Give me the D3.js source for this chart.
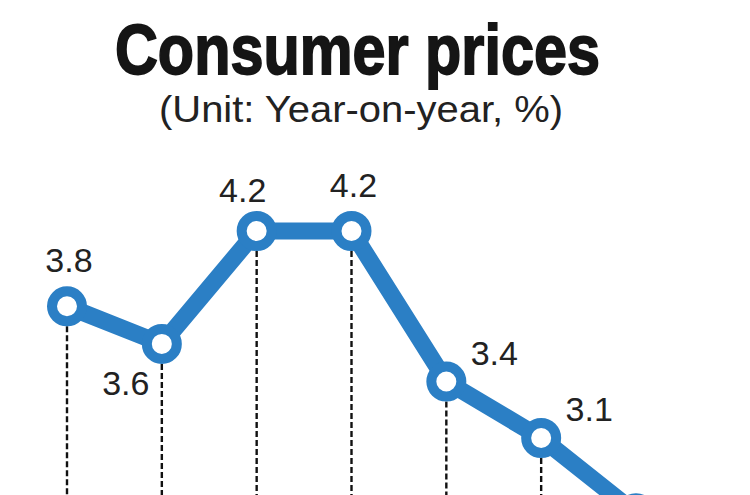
<!DOCTYPE html>
<html>
<head>
<meta charset="utf-8">
<script src="https://cdn.jsdelivr.net/npm/d3@7/dist/d3.min.js"></script>
<style>
  html, body { margin: 0; padding: 0; background: #ffffff; }
  svg { display: block; }
</style>
</head>
<body>
<script>
// ---- data ----
const categories = ["Sep", "Oct", "Nov", "Dec", "Jan", "Feb", "Mar"];
const values = [3.8, 3.6, 4.2, 4.2, 3.4, 3.1, 2.7];
const valueLabels = ["3.8", "3.6", "4.2", "4.2", "3.4", "3.1", "2.7"];
// last label lies outside the visible crop of the reference
const labelPlacement = ["above", "belowLeft", "aboveLeft", "above", "aboveRight", "aboveRight", "hidden"];
const titleText = "Consumer prices";
const subtitleText = "(Unit: Year-on-year, %)";

// ---- layout ----
const W = 750, H = 495;
const blue = "#2b7fc5";
const ink = "#222222";

const svg = d3.select("body").append("svg")
  .attr("width", W).attr("height", H)
  .attr("viewBox", `0 0 ${W} ${H}`);

svg.append("rect").attr("width", W).attr("height", H).attr("fill", "#ffffff");

const x = d3.scalePoint().domain(categories).range([67, 636]);
const y = d3.scaleLinear().domain([3.1, 4.2]).range([438, 231]);

// title
svg.append("text")
  .attr("x", 115).attr("y", 74)
  .attr("textLength", 485).attr("lengthAdjust", "spacingAndGlyphs")
  .attr("font-family", "'Liberation Sans Narrow', 'Liberation Sans', Arial, sans-serif")
  .attr("font-weight", "bold").attr("font-size", 71)
  .attr("fill", "#151515").attr("stroke", "#151515").attr("stroke-width", 1.8)
  .text(titleText);

svg.append("text")
  .attr("x", 159).attr("y", 122)
  .attr("textLength", 404).attr("lengthAdjust", "spacingAndGlyphs")
  .attr("font-family", "'Liberation Sans', Arial, sans-serif")
  .attr("font-size", 36)
  .attr("fill", ink)
  .text(subtitleText);

const pts = categories.map((c, i) => ({ c, v: values[i], label: valueLabels[i], place: labelPlacement[i] }));

// dashed drop lines
svg.append("g").selectAll("line").data(pts).join("line")
  .attr("x1", d => x(d.c)).attr("x2", d => x(d.c))
  .attr("y1", d => y(d.v) + 20).attr("y2", H + 10)
  .attr("stroke", "#111111").attr("stroke-width", 2.4)
  .attr("stroke-dasharray", "6,3");

// line
const line = d3.line().x(d => x(d.c)).y(d => y(d.v));
svg.append("path").datum(pts)
  .attr("d", line)
  .attr("fill", "none").attr("stroke", blue)
  .attr("stroke-width", 17)
  .attr("stroke-linejoin", "round").attr("stroke-linecap", "round");

// markers
svg.append("g").selectAll("circle").data(pts).join("circle")
  .attr("cx", d => x(d.c)).attr("cy", d => y(d.v))
  .attr("r", 15)
  .attr("fill", "#ffffff").attr("stroke", blue).attr("stroke-width", 10);

// value labels
const off = {
  above: [2, -34],
  aboveLeft: [-14, -29],
  belowLeft: [-36, 51],
  aboveRight: [48, -17]
};
svg.append("g").selectAll("text").data(pts.filter(d => d.place !== "hidden")).join("text")
  .attr("x", d => x(d.c) + off[d.place][0])
  .attr("y", d => y(d.v) + off[d.place][1])
  .attr("text-anchor", "middle")
  .attr("font-family", "'Liberation Sans', Arial, sans-serif")
  .attr("font-size", 34)
  .attr("fill", ink)
  .text(d => d.label);
</script>
</body>
</html>
